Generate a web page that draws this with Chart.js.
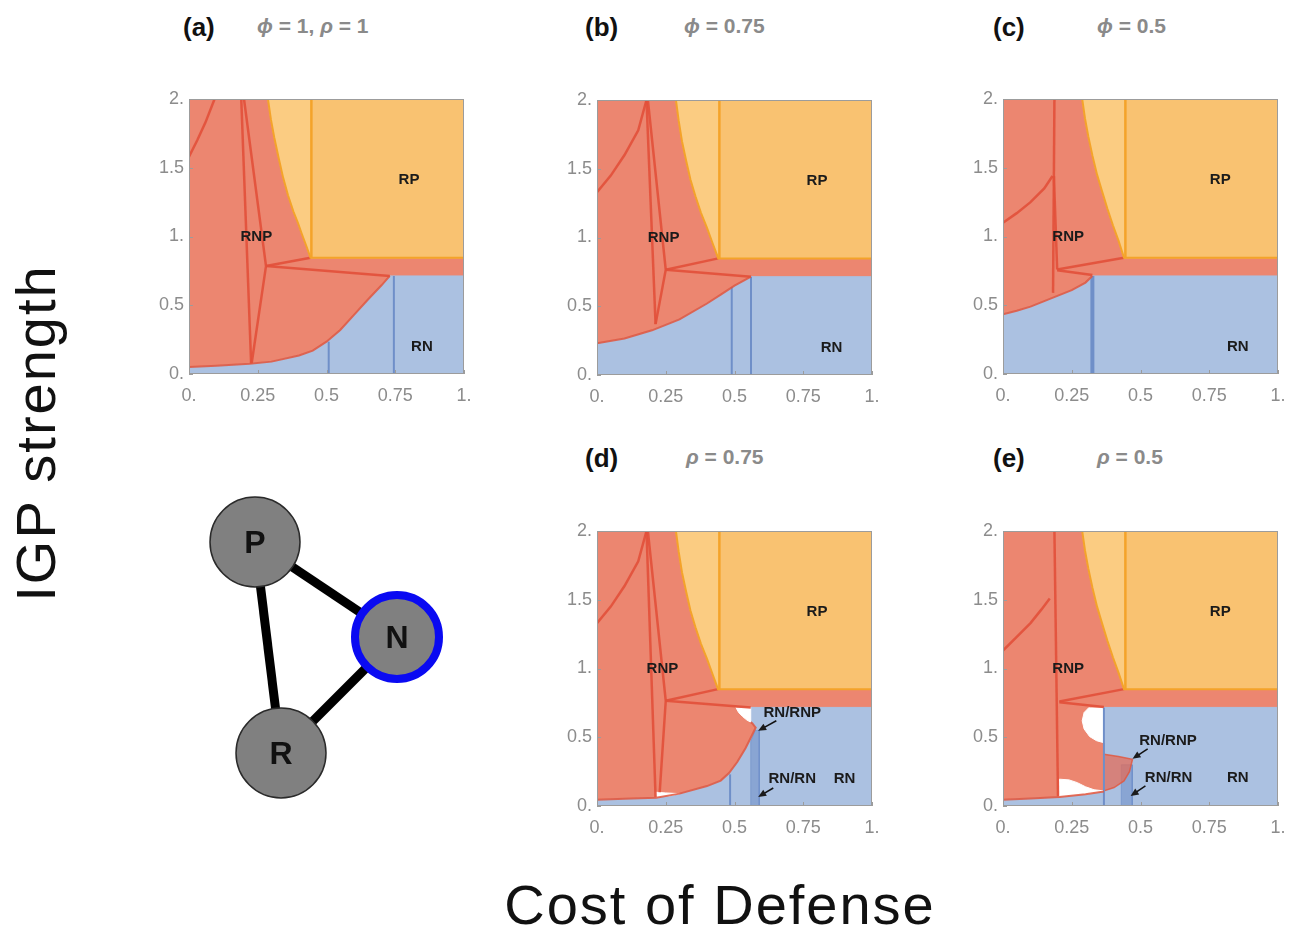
<!DOCTYPE html>
<html>
<head>
<meta charset="utf-8">
<script src="https://cdn.jsdelivr.net/npm/chart.js@4.4.1/dist/chart.umd.min.js"></script>
<style>
  body { margin: 0; background: #fff; width: 1295px; height: 931px; position: relative; overflow: hidden;
         font-family: "Liberation Sans", Arial, Helvetica, sans-serif; }
  .box { position: absolute; width: 330px; height: 325px; }
  .tag { position: absolute; font-weight: bold; font-size: 26px; line-height: 30px; color: #111; }
  .par { position: absolute; font-weight: bold; font-size: 21px; line-height: 26px; color: #8a8a8a; }
  .ttl { position: absolute; font-size: 56px; line-height: 56px; letter-spacing: 2px; color: #111; text-align: center; }
</style>
</head>
<body>

<div class="tag" style="left:183px;top:12px">(a)</div>
<div class="par" style="left:257px;top:13px"><i>ϕ</i> = 1, <i>ρ</i> = 1</div>
<div class="tag" style="left:585px;top:12px">(b)</div>
<div class="par" style="left:684px;top:13px"><i>ϕ</i> = 0.75</div>
<div class="tag" style="left:993px;top:12px">(c)</div>
<div class="par" style="left:1097px;top:13px"><i>ϕ</i> = 0.5</div>
<div class="tag" style="left:585px;top:443px">(d)</div>
<div class="par" style="left:686px;top:444px"><i>ρ</i> = 0.75</div>
<div class="tag" style="left:993px;top:443px">(e)</div>
<div class="par" style="left:1097px;top:444px"><i>ρ</i> = 0.5</div>

<div class="box" style="left:149px;top:89px"><canvas id="pa" width="330" height="325"></canvas></div>
<div class="box" style="left:557px;top:90px"><canvas id="pb" width="330" height="325"></canvas></div>
<div class="box" style="left:963px;top:89px"><canvas id="pc" width="330" height="325"></canvas></div>
<div class="box" style="left:557px;top:521px"><canvas id="pd" width="330" height="325"></canvas></div>
<div class="box" style="left:963px;top:521px"><canvas id="pe" width="330" height="325"></canvas></div>
<div style="position:absolute;left:180px;top:470px;width:290px;height:340px"><canvas id="net" width="290" height="340"></canvas></div>

<div class="ttl" style="left:-144px;top:405px;width:360px;height:56px;transform:rotate(-90deg)">IGP strength</div>
<div class="ttl" style="left:420px;top:877px;width:600px">Cost of Defense</div>

<script>
// ticks
const xTicks = [0, 0.25, 0.5, 0.75, 1];
const yTicks = [0, 0.5, 1, 1.5, 2];

// (a) phi = 1, rho = 1
const aRP = [[0.287,2],[0.298,1.85],[0.31,1.72],[0.325,1.58],[0.342,1.43],[0.36,1.3],[0.38,1.18],[0.396,1.1],[0.41,1.02],[0.425,0.94],[0.442,0.845],[1,0.845],[1,2]];
const aRN = [[0,0],[0,0.05],[0.1,0.06],[0.22,0.075],[0.3,0.09],[0.4,0.135],[0.45,0.17],[0.5,0.235],[0.55,0.32],[0.6,0.43],[0.65,0.54],[0.7,0.645],[0.73,0.713],[1,0.713],[1,0]];
const aRed = [
  [[0,1.58],[0.03,1.7],[0.06,1.83],[0.093,2]],
  [[0.19,2],[0.226,0.075]],
  [[0.2,2],[0.28,0.785],[0.228,0.08]],
  [[0.28,0.785],[0.442,0.845]],
  [[0.28,0.785],[0.73,0.713]]
];
const aBlue = [[[0.508,0],[0.508,0.235]], [[0.745,0],[0.745,0.713]]];
const aOrange = [[[0.445,0.845],[0.445,2]]];
const aLabels = [['RP',0.8,1.41], ['RNP',0.245,1.0], ['RN',0.847,0.2]];

// (b) phi = 0.75
const bRP = [[0.287,2],[0.297,1.85],[0.309,1.7],[0.324,1.56],[0.34,1.42],[0.358,1.3],[0.378,1.18],[0.4,1.07],[0.42,0.96],[0.441,0.848],[1,0.848],[1,2]];
const bRN = [[0,0],[0,0.23],[0.1,0.265],[0.2,0.325],[0.3,0.405],[0.4,0.52],[0.45,0.585],[0.5,0.65],[0.56,0.715],[1,0.715],[1,0]];
const bRed = [
  [[0,1.33],[0.05,1.45],[0.1,1.6],[0.15,1.78],[0.18,2]],
  [[0.18,2],[0.213,0.37]],
  [[0.185,2],[0.25,0.765],[0.213,0.37]],
  [[0.25,0.765],[0.441,0.848]],
  [[0.25,0.765],[0.56,0.715]]
];
const bBlue = [[[0.49,0],[0.49,0.64]], [[0.56,0],[0.56,0.715]]];
const bOrange = [[[0.445,0.848],[0.445,2]]];
const bLabels = [['RP',0.8,1.41], ['RNP',0.242,1.0], ['RN',0.853,0.2]];

// (c) phi = 0.5
const cRP = [[0.288,2],[0.298,1.86],[0.31,1.73],[0.325,1.59],[0.342,1.45],[0.36,1.33],[0.38,1.2],[0.4,1.08],[0.42,0.97],[0.44,0.845],[1,0.845],[1,2]];
const cRN = [[0,0],[0,0.435],[0.05,0.46],[0.1,0.49],[0.15,0.53],[0.2,0.57],[0.25,0.61],[0.3,0.665],[0.325,0.713],[1,0.713],[1,0]];
const cRed = [
  [[0,1.1],[0.05,1.17],[0.1,1.25],[0.15,1.35],[0.18,1.44]],
  [[0.187,2],[0.182,0.59]],
  [[0.185,1.44],[0.197,0.76]],
  [[0.197,0.76],[0.44,0.845]],
  [[0.197,0.755],[0.325,0.72]]
];
const cBlue = [[[0.325,0],[0.325,0.713]]];
const cOrange = [[[0.445,0.845],[0.445,2]]];
const cLabels = [['RP',0.79,1.41], ['RNP',0.237,1.0], ['RN',0.854,0.2]];

// (d) rho = 0.75
const dRP = [[0.287,2],[0.297,1.85],[0.309,1.7],[0.324,1.56],[0.34,1.42],[0.358,1.3],[0.378,1.18],[0.4,1.07],[0.42,0.96],[0.44,0.85],[1,0.85],[1,2]];
const dRN = [[0,0],[0,0.045],[0.1,0.052],[0.215,0.06],[0.3,0.09],[0.4,0.145],[0.45,0.185],[0.48,0.24],[0.51,0.32],[0.54,0.42],[0.56,0.5],[0.577,0.57],[0.565,0.6],[0.559,0.61],[0.559,0.717],[1,0.717],[1,0]];
const dWhite = [
  [[0.505,0.717],[0.515,0.68],[0.53,0.65],[0.545,0.625],[0.559,0.61],[0.559,0.717]],
  [[0.215,0.06],[0.215,0.1],[0.25,0.095],[0.3,0.09],[0.26,0.072]]
];
const dBand = [[[0.559,0],[0.559,0.47],[0.575,0.55],[0.59,0.55],[0.59,0]]];
const dRed = [
  [[0,1.33],[0.05,1.45],[0.1,1.6],[0.15,1.78],[0.18,2]],
  [[0.18,2],[0.213,0.065]],
  [[0.185,2],[0.25,0.765],[0.228,0.1]],
  [[0.25,0.765],[0.44,0.85]],
  [[0.25,0.765],[0.559,0.717]]
];
const dBlue = [[[0.484,0],[0.484,0.23]]];
const dOrange = [[[0.445,0.85],[0.445,2]]];
const dLabels = [['RP',0.8,1.41], ['RNP',0.238,1.0], ['RN/RNP',0.71,0.674], ['RN/RN',0.71,0.2], ['RN',0.9,0.2]];
const dArrows = [[[0.652,0.62],[0.586,0.547]], [[0.641,0.131],[0.586,0.066]]];

// (e) rho = 0.5
const eRP = [[0.288,2],[0.298,1.86],[0.31,1.73],[0.325,1.59],[0.342,1.45],[0.36,1.33],[0.38,1.2],[0.4,1.08],[0.42,0.97],[0.44,0.85],[1,0.85],[1,2]];
const eRN = [[0,0],[0,0.045],[0.1,0.055],[0.205,0.065],[0.3,0.085],[0.367,0.105],[0.367,0.717],[1,0.717],[1,0]];
const eLobe = [[0.367,0.11],[0.404,0.134],[0.44,0.182],[0.46,0.25],[0.471,0.34],[0.42,0.36],[0.367,0.377]];
const eWhite = [
  [[0.313,0.717],[0.295,0.68],[0.288,0.62],[0.295,0.56],[0.315,0.505],[0.34,0.475],[0.367,0.46],[0.367,0.717]],
  [[0.205,0.066],[0.205,0.195],[0.24,0.19],[0.27,0.17],[0.3,0.14],[0.331,0.118],[0.367,0.11],[0.3,0.085]]
];
const eBand = [[[0.43,0],[0.43,0.3],[0.47,0.3],[0.47,0]]];
const eRed = [
  [[0,1.13],[0.05,1.23],[0.1,1.33],[0.14,1.43],[0.17,1.51]],
  [[0.187,2],[0.2,0.07]],
  [[0.205,0.76],[0.44,0.85]],
  [[0.205,0.755],[0.367,0.72]]
];
const eBlue = [[[0.367,0],[0.367,0.717]]];
const eOrange = [[[0.445,0.85],[0.445,2]]];
const eLabels = [['RP',0.79,1.41], ['RNP',0.237,1.0], ['RN/RNP',0.6,0.474], ['RN/RN',0.602,0.204], ['RN',0.854,0.204]];
const eArrows = [[[0.526,0.416],[0.471,0.343]], [[0.518,0.146],[0.464,0.073]]];

// food web sketch
const netNodes = ['P', 'N', 'R'];
const netX = [255, 397, 281];
const netY = [542, 637, 753];
const netLinks = [[0, 1], [0, 2], [2, 1]];

// colours
const RNP_FILL = '#ec8670';
const RP_LIGHT = '#fbcc82';
const RP_FILL = '#f9c271';
const RN_FILL = '#abc1e1';
const RED_LINE = 'rgba(226,80,58,0.9)';
const ORANGE_LINE = '#f4a32a';
const BLUE_LINE = '#6f8fc8';
const FONT = '"Liberation Sans", Arial, Helvetica, sans-serif';

const pts = arr => arr.map(([x, y]) => ({x, y}));

function area(arr, color, border) {
  return { data: pts(arr), showLine: true, fill: 'shape', backgroundColor: color,
           borderColor: border || color, borderWidth: border ? 1.5 : 1, pointRadius: 0, pointHoverRadius: 0 };
}
function edge(arr, color, w) {
  return { data: pts(arr), showLine: true, fill: false, borderColor: color, borderWidth: w,
           pointRadius: 0, pointHoverRadius: 0 };
}

function buildLayers(p) {
  const ox = p.orange[0][0][0];
  const oy = p.orange[0][0][1];
  const list = [];
  list.push(area([[0,0],[0,2],[1,2],[1,0]], RNP_FILL));
  list.push(area(p.rp, RP_LIGHT));
  list.push(area([[ox,oy],[ox,2],[1,2],[1,oy]], RP_FILL));
  list.push(area(p.rn, RN_FILL));
  (p.bands || []).forEach(b => list.push(area(b, 'rgba(95,130,195,0.45)')));
  if (p.lobe) list.push(area(p.lobe, 'rgba(228,105,85,0.72)', 'rgba(225,85,60,0.8)'));
  (p.white || []).forEach(w => list.push(area(w, '#ffffff')));
  p.blue.forEach(l => list.push(edge(l, BLUE_LINE, p.blueW || 2)));
  p.red.forEach(l => list.push(edge(l, RED_LINE, 2.5)));
  list.push(edge(p.rnEdge, 'rgba(226,85,60,0.85)', 2));
  list.push(edge(p.rp.slice(0, -1), ORANGE_LINE, 2));
  p.orange.forEach(l => list.push(edge(l, ORANGE_LINE, 2.5)));
  // first dataset is drawn on top
  return list.reverse();
}

const framePlugin = {
  id: 'frame',
  afterDatasetsDraw(chart) {
    const {ctx, chartArea: a, scales} = chart;
    ctx.save();
    ctx.strokeStyle = '#9c9c9c';
    ctx.lineWidth = 1;
    ctx.strokeRect(a.left + 0.5, a.top + 0.5, a.width - 1, a.height - 1);
    ctx.beginPath();
    xTicks.forEach(v => {
      const px = Math.round(scales.x.getPixelForValue(v)) + 0.5;
      ctx.moveTo(px, a.bottom); ctx.lineTo(px, a.bottom - 4);
    });
    yTicks.forEach(v => {
      const py = Math.round(scales.y.getPixelForValue(v)) + 0.5;
      ctx.moveTo(a.left, py); ctx.lineTo(a.left + 4, py);
    });
    ctx.stroke();
    ctx.restore();
  }
};

function marksPlugin(labels, arrows) {
  return {
    id: 'marks',
    afterDatasetsDraw(chart) {
      const {ctx, scales: {x, y}} = chart;
      ctx.save();
      ctx.fillStyle = '#1b1b1b';
      ctx.font = 'bold 15px ' + FONT;
      ctx.textAlign = 'center';
      ctx.textBaseline = 'middle';
      labels.forEach(([t, vx, vy]) => ctx.fillText(t, x.getPixelForValue(vx), y.getPixelForValue(vy)));
      ctx.strokeStyle = '#111';
      ctx.lineWidth = 1.5;
      (arrows || []).forEach(([[x0, y0], [x1, y1]]) => {
        const p0 = [x.getPixelForValue(x0), y.getPixelForValue(y0)];
        const p1 = [x.getPixelForValue(x1), y.getPixelForValue(y1)];
        const ang = Math.atan2(p1[1] - p0[1], p1[0] - p0[0]);
        ctx.beginPath();
        ctx.moveTo(p0[0], p0[1]);
        ctx.lineTo(p1[0] - 5 * Math.cos(ang), p1[1] - 5 * Math.sin(ang));
        ctx.stroke();
        ctx.beginPath();
        ctx.moveTo(p1[0], p1[1]);
        ctx.lineTo(p1[0] - 8 * Math.cos(ang) + 3.5 * Math.sin(ang), p1[1] - 8 * Math.sin(ang) - 3.5 * Math.cos(ang));
        ctx.lineTo(p1[0] - 8 * Math.cos(ang) - 3.5 * Math.sin(ang), p1[1] - 8 * Math.sin(ang) + 3.5 * Math.cos(ang));
        ctx.closePath();
        ctx.fill();
      });
      ctx.restore();
    }
  };
}

const tickText = v => Number.isInteger(v) ? v + '.' : String(v);

function regionChart(id, p) {
  new Chart(document.getElementById(id), {
    type: 'scatter',
    data: { datasets: buildLayers(p) },
    options: {
      responsive: false,
      animation: false,
      events: [],
      layout: { autoPadding: false, padding: { top: 10, right: 15, left: 0, bottom: 0 } },
      plugins: { legend: { display: false }, tooltip: { enabled: false } },
      scales: {
        x: {
          type: 'linear', min: 0, max: 1,
          afterBuildTicks: s => { s.ticks = xTicks.map(v => ({value: v})); },
          afterFit: s => { s.height = 40; s.paddingLeft = 0; s.paddingRight = 0; },
          grid: { display: false, drawTicks: false },
          border: { display: false },
          ticks: { callback: tickText, color: '#8c8c8c', font: { size: 18, family: FONT }, padding: 11, maxRotation: 0, autoSkip: false }
        },
        y: {
          type: 'linear', min: 0, max: 2,
          afterBuildTicks: s => { s.ticks = yTicks.map(v => ({value: v})); },
          afterFit: s => { s.width = 40; s.paddingTop = 0; s.paddingBottom = 0; },
          grid: { display: false, drawTicks: false },
          border: { display: false },
          ticks: { callback: tickText, color: '#8c8c8c', font: { size: 18, family: FONT }, padding: 5, autoSkip: false }
        }
      }
    },
    plugins: [framePlugin, marksPlugin(p.labels, p.arrows)]
  });
}

regionChart('pa', { rp: aRP, rn: aRN, red: aRed, blue: aBlue, orange: aOrange, labels: aLabels, rnEdge: aRN.slice(1, 13) });
regionChart('pb', { rp: bRP, rn: bRN, red: bRed, blue: bBlue, orange: bOrange, labels: bLabels, rnEdge: bRN.slice(1, 9) });
regionChart('pc', { rp: cRP, rn: cRN, red: cRed, blue: cBlue, blueW: 4, orange: cOrange, labels: cLabels, rnEdge: cRN.slice(1, 9) });
regionChart('pd', { rp: dRP, rn: dRN, red: dRed, blue: dBlue, orange: dOrange, labels: dLabels, arrows: dArrows,
                    white: dWhite, bands: dBand, rnEdge: dRN.slice(1, 14) });
regionChart('pe', { rp: eRP, rn: eRN, red: eRed, blue: eBlue, orange: eOrange, labels: eLabels, arrows: eArrows,
                    white: eWhite, bands: eBand, lobe: eLobe, rnEdge: eRN.slice(1, 6) });

// network sketch
const netSets = [{
  data: netX.map((x, i) => ({x, y: netY[i]})),
  showLine: false,
  pointRadius: [45, 42, 45],
  pointHoverRadius: [45, 42, 45],
  pointBackgroundColor: '#808080',
  pointBorderColor: ['#2a2a2a', '#0a0af2', '#2a2a2a'],
  pointBorderWidth: [1.5, 8, 1.5],
  clip: false
}];
netLinks.forEach(([i, j]) => netSets.push({
  data: [{x: netX[i], y: netY[i]}, {x: netX[j], y: netY[j]}],
  showLine: true, fill: false, borderColor: '#000', borderWidth: 9, pointRadius: 0, clip: false
}));

new Chart(document.getElementById('net'), {
  type: 'scatter',
  data: { datasets: netSets },
  options: {
    responsive: false, animation: false, events: [],
    layout: { autoPadding: false, padding: 0 },
    plugins: { legend: { display: false }, tooltip: { enabled: false } },
    scales: {
      x: { display: false, min: 180, max: 470 },
      y: { display: false, min: 470, max: 810, reverse: true }
    }
  },
  plugins: [{
    id: 'nodeNames',
    afterDatasetsDraw(chart) {
      const {ctx, scales: {x, y}} = chart;
      ctx.save();
      ctx.fillStyle = '#111';
      ctx.font = 'bold 32px ' + FONT;
      ctx.textAlign = 'center';
      ctx.textBaseline = 'middle';
      netNodes.forEach((n, i) => ctx.fillText(n, x.getPixelForValue(netX[i]), y.getPixelForValue(netY[i]) + 2));
      ctx.restore();
    }
  }]
});
</script>
</body>
</html>
